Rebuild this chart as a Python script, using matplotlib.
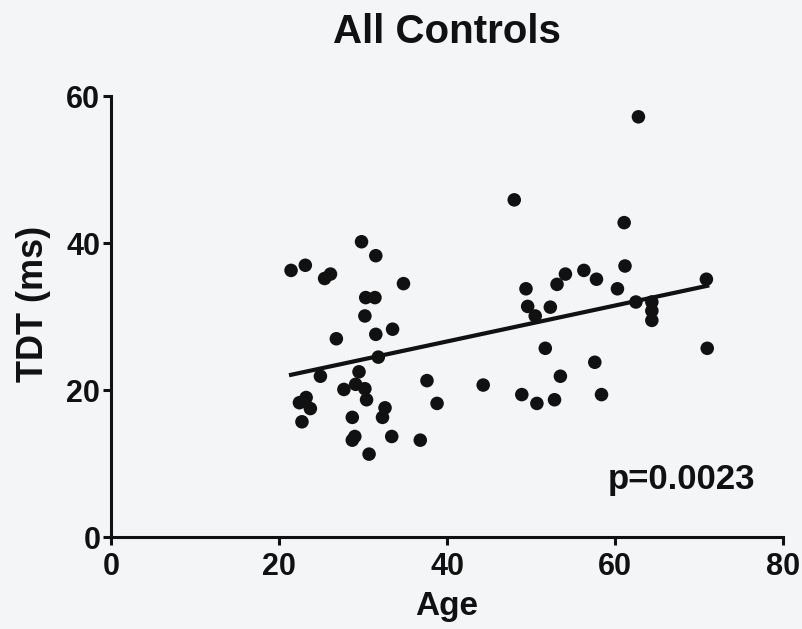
"""
All Controls - TDT versus age scatter with linear fit"""

import numpy as np
import matplotlib
matplotlib.use('Agg')
import matplotlib.pyplot as plt

# Age (years) of each control
AGE = [29.8, 31.5, 21.4, 23.1, 25.4, 26.1, 34.8, 30.3, 31.4, 30.2,
       26.8, 31.5, 33.5, 31.8, 24.9, 29.5, 37.6, 27.7, 29.1, 30.2,
       30.4, 22.4, 23.2, 23.7, 22.7, 38.8, 32.6, 32.3, 28.7, 29.0,
       28.7, 33.4, 36.8, 30.7,
       48.0, 44.3, 49.4, 49.6, 50.5, 52.3, 54.1, 53.1, 56.3, 57.8,
       51.7, 53.5, 48.9, 50.7, 52.8, 57.6, 58.4, 62.8, 61.1, 61.2,
       60.3, 70.9, 62.5, 64.4, 64.4, 64.4, 71.0]
# TDT (ms)
TDT = [40.2, 38.3, 36.3, 37.0, 35.2, 35.8, 34.5, 32.6, 32.6, 30.1,
       27.0, 27.6, 28.3, 24.5, 21.9, 22.5, 21.3, 20.1, 20.8, 20.2,
       18.7, 18.3, 19.0, 17.5, 15.7, 18.2, 17.6, 16.3, 16.3, 13.7,
       13.2, 13.7, 13.2, 11.3,
       45.9, 20.7, 33.8, 31.4, 30.1, 31.3, 35.8, 34.4, 36.3, 35.1,
       25.7, 21.9, 19.4, 18.2, 18.7, 23.8, 19.4, 57.2, 42.8, 36.9,
       33.8, 35.1, 32.0, 32.0, 30.8, 29.5, 25.7]
P_TEXT = 'p=0.0023'

plt.rcParams['font.family'] = ['Liberation Sans', 'DejaVu Sans']
plt.rcParams['font.weight'] = 'bold'

fig = plt.figure(figsize=(8.02, 6.29), dpi=100, facecolor='#f4f5f7')
ax = fig.add_axes([0.139, 0.146, 0.837, 0.701])
ax.set_facecolor('#f4f5f7')

age = np.array(AGE)
tdt = np.array(TDT)
slope, intercept = np.polyfit(age, tdt, 1)
x_fit = np.array([age.min(), age.max()])
ax.plot(x_fit, slope * x_fit + intercept, color='#111111', lw=3, zorder=2)
ax.scatter(age, tdt, s=95, color='#111111', edgecolors='none', zorder=3)

ax.set_xlim(0, 80)
ax.set_ylim(0, 60)
ax.set_xticks([0, 20, 40, 60, 80])
ax.set_yticks([0, 20, 40, 60])
for side in ['top', 'right']:
    ax.spines[side].set_visible(False)
for side in ['left', 'bottom']:
    ax.spines[side].set_linewidth(2.2)
    ax.spines[side].set_color('#111111')
ax.tick_params(width=2.2, length=6, color='#111111', labelsize=22,
               labelcolor='#111111')
ax.tick_params(axis='x', pad=5)
ax.tick_params(axis='y', pad=2)

ax.set_xlabel('Age', fontsize=24, fontweight='bold', color='#111111', labelpad=6)
ax.set_ylabel('TDT (ms)', fontsize=26, fontweight='bold', color='#111111')
ax.yaxis.set_label_coords(-0.09, 0.53)
ax.set_title('All Controls', fontsize=29, fontweight='bold', color='#111111', pad=38)
ax.text(67.9, 7.9, P_TEXT, fontsize=25, fontweight='bold', color='#111111',
        ha='center', va='center')

fig.savefig('out.png', dpi=100, facecolor=fig.get_facecolor())
